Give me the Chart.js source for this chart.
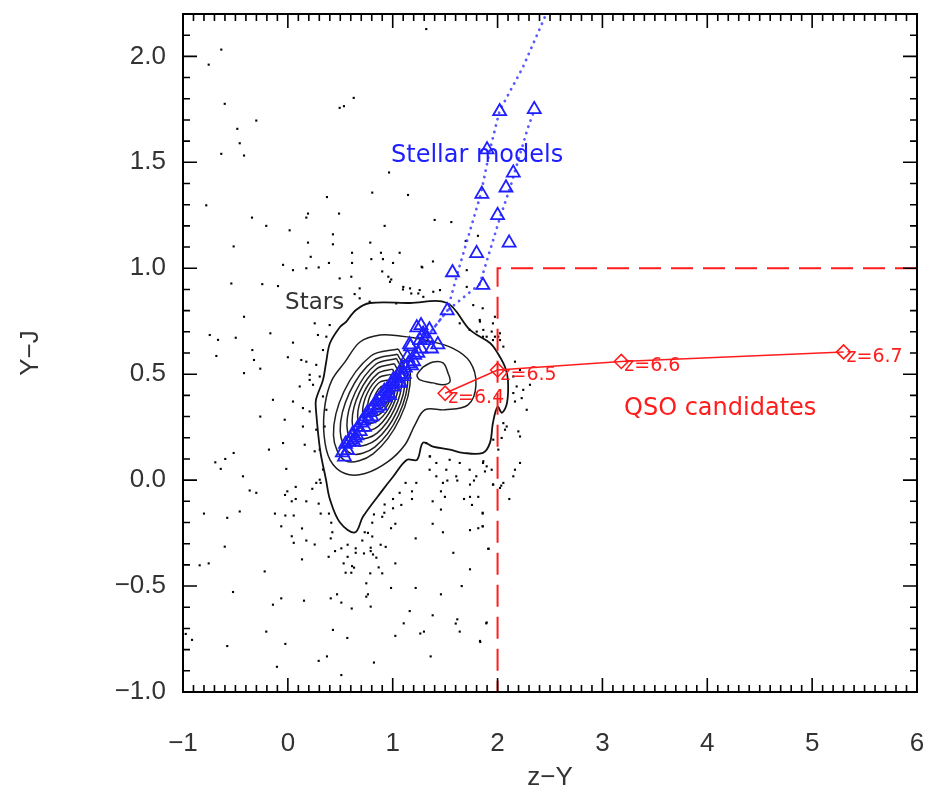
<!DOCTYPE html>
<html>
<head>
<meta charset="utf-8">
<title>z−Y vs Y−J colour–colour diagram</title>
<script src="https://cdn.jsdelivr.net/npm/chart.js@4.4.1/dist/chart.umd.min.js"></script>
<style>
  html, body { margin: 0; padding: 0; background: #ffffff; }
  #wrap { width: 928px; height: 796px; }
</style>
</head>
<body>
<div id="wrap"><canvas id="chart" width="928" height="796"></canvas></div>
<script>
// ---- Axis ticks ----
const xTickValues = [-1, 0, 1, 2, 3, 4, 5, 6];
const yTickValues = [-1.0, -0.5, 0.0, 0.5, 1.0, 1.5, 2.0];

// ---- Field stars (z−Y, Y−J) ----
const starDots = [
  [-0.635,2.032],[-0.755,1.961],[-0.602,1.776],[-0.301,1.697],[-0.482,1.658],[-0.459,1.590],[-0.635,1.540],[-0.418,1.532],
  [1.320,2.129],[0.494,1.757],[0.535,1.765],[0.628,1.804],[0.965,1.452],[0.805,1.357],[1.146,1.346],[0.373,1.336],
  [-0.778,1.297],[-0.342,1.239],[-0.206,1.200],[0.017,1.179],[0.176,1.239],[0.192,1.258],[0.488,1.258],[0.923,1.200],
  [1.400,1.228],[1.559,1.218],[0.430,1.160],[0.192,1.121],[0.430,1.113],[0.786,1.121],[1.813,1.153],[-0.517,1.103],
  [0.612,1.073],[0.888,1.073],[1.066,1.073],[0.218,1.054],[0.796,1.043],[0.907,1.043],[-0.046,1.016],[0.049,0.991],
  [0.176,1.000],[0.294,1.004],[0.392,1.025],[0.612,1.025],[1.003,1.025],[1.282,1.004],[1.384,1.032],[0.900,0.985],
  [1.696,1.129],[1.276,1.007],[1.706,0.991],[0.958,0.960],[0.974,0.936],[1.451,0.897],[1.706,0.912],[1.768,0.826],
  [1.832,0.748],[2.055,0.630],
  [-0.539,0.928],[-0.244,0.925],[-0.094,0.916],[0.494,0.952],[0.605,0.960],[0.986,0.947],[1.098,0.900],[1.177,0.881],
  [1.257,0.897],[0.685,0.905],[0.637,0.878],[0.685,0.858],[-0.418,0.771],[-0.745,0.685],[-0.666,0.662],[-0.497,0.672],
  [-0.167,0.693],[0.049,0.649],[-0.339,0.614],[-0.682,0.586],[-0.323,0.567],[-0.263,0.526],[0.000,0.580],[0.128,0.567],
  [0.176,0.559],[0.271,0.544],[0.287,0.685],[0.367,0.677],[0.256,0.740],[0.399,0.732],[0.494,0.834],[-0.418,0.505],
  [0.113,0.442],[-0.142,0.379],[0.049,0.371],[0.208,0.473],[0.208,0.497],[0.240,0.450],[-0.263,0.300],[-0.030,0.285],
  [0.144,0.340],[0.208,0.324],[0.144,0.253],[-0.046,0.175],[-0.180,0.144],[0.161,0.167],[0.256,0.136],[-0.517,0.128],
  [-0.692,0.084],[-0.597,0.100],[-0.640,0.053],[-0.428,0.018],[0.304,0.002],[-0.015,0.053],
  [0.335,0.614],[0.304,0.489],[0.335,0.395],[0.367,0.332],[0.351,0.253],[0.271,0.238],[0.304,0.144],[0.335,0.050],
  [1.320,0.175],[1.352,0.112],[1.416,0.081],[1.543,0.096],[1.639,0.081],[1.734,0.049],[1.861,0.081],[1.797,0.018],
  [1.416,0.018],[1.511,0.049],[1.606,0.018],[1.352,0.049],[1.225,-0.013],
  [0.780,0.842],[1.034,0.834],[1.639,0.740],[1.734,0.709],[1.861,0.677],[1.956,0.740],[1.830,0.756],[1.956,0.661],
  [1.101,0.912],[1.165,0.905],[1.244,0.881],[1.292,0.865],[1.387,0.889],[1.801,0.701],[1.896,0.677],[1.944,0.701],
  [2.007,0.677],[2.182,0.442],[2.087,0.253],[1.356,0.112],
  [-0.364,-0.049],[-0.301,-0.060],[-0.800,-0.158],[-0.578,-0.178],[-0.459,-0.148],[-0.602,-0.314],[-0.841,-0.402],[-0.755,-0.393],
  [-0.221,-0.431],[-0.523,-0.528],[-0.142,-0.588],[-0.063,-0.558],[-0.206,-0.715],[-0.578,-0.783],[-0.974,-0.726],[-0.914,-0.754],
  [-0.104,-0.881],[-0.024,-0.773],[-0.123,-0.158],[-0.024,-0.167],[-0.063,-0.218],[-0.027,-0.070],[-0.005,-0.053],[0.037,-0.100],
  [0.075,-0.032],[0.075,-0.089],[0.056,-0.167],[0.037,-0.265],[0.056,-0.296],[0.135,-0.228],[0.135,-0.374],[0.176,-0.100],
  [0.176,-0.285],[0.233,-0.041],[0.256,-0.304],[0.294,-0.111],[0.313,-0.158],[0.271,-0.013],[0.313,-0.013],[0.154,-0.569],
  [0.294,-0.853],[0.373,-0.832],[0.409,-0.558],[0.469,-0.539],[0.510,-0.578],[0.430,-0.707],[0.510,-0.920],[0.567,-0.745],
  [0.609,-0.606],[0.389,-0.362],[0.392,-0.158],[0.414,-0.201],[0.424,-0.246],[0.409,-0.275],[0.450,-0.335],[0.510,-0.322],
  [0.570,-0.305],[0.570,-0.362],[0.532,-0.393],[0.551,-0.437],[0.605,-0.437],[0.612,-0.406],[0.631,-0.413],[0.647,-0.322],
  [0.647,-0.343],[0.710,-0.285],[0.726,-0.346],[0.733,-0.246],[0.764,-0.249],[0.790,-0.319],[0.790,-0.335],[0.812,-0.351],
  [0.844,-0.366],[0.805,-0.266],[0.786,-0.440],[0.748,-0.487],[0.764,-0.539],[0.748,-0.550],[0.790,-0.597],[0.866,-0.412],
  [0.900,-0.440],[0.885,-0.305],[0.933,-0.315],[0.805,-0.201],[0.821,-0.162],[0.900,-0.173],[0.920,-0.154],[0.923,-0.115],
  [0.984,-0.227],[1.025,-0.206],[1.003,-0.133],[1.003,-0.089],[1.025,-0.393],[0.984,-0.509],[1.025,-0.735],[0.821,-0.861],
  [1.066,-0.060],[1.082,-0.117],[1.123,-0.013],[1.184,-0.053],[1.184,-0.089],[1.219,-0.275],[1.219,-0.509],[1.162,-0.618],
  [1.105,-0.676],[1.263,-0.724],[1.298,-0.715],[1.362,-0.832],[1.381,-0.638],[1.460,-0.539],[1.381,-0.206],[1.381,-0.100],
  [1.460,-0.053],[1.460,-0.139],[1.479,-0.246],[1.498,-0.079],[1.479,-0.013],[1.521,-0.002],[1.578,-0.343],[1.601,-0.677],
  [1.616,-0.657],[1.639,-0.715],[1.658,-0.500],[1.680,-0.089],[1.737,-0.079],[1.737,-0.421],[1.756,-0.117],[1.737,-0.236],
  [1.816,-0.227],[1.816,-0.079],[1.835,-0.764],[1.858,-0.158],[1.858,-0.218],[1.892,-0.676],[1.915,-0.324],[1.737,-0.021],
  [1.775,-0.002],[1.956,-0.021],[2.035,-0.026],[1.616,-0.002],
  [1.858,0.811],[1.975,0.771],[1.864,0.709],[2.023,0.693],[1.975,0.677],[2.023,0.661],[2.166,0.559],[2.214,0.520],
  [2.150,0.489],[2.309,0.450],[2.245,0.426],[2.150,0.411],[2.230,0.387],[2.166,0.371],[2.278,0.332],[2.055,0.269],
  [2.071,0.238],[2.198,0.230],[2.214,0.206],[2.039,0.199],[1.959,0.191],[2.007,0.144],[1.864,0.089],[1.896,0.065],
  [1.944,0.049],[1.880,0.041],[2.214,0.081],[2.166,0.049],[2.150,0.018],[1.959,-0.021],[2.055,-0.013],[2.023,-0.037],
  [2.112,-0.089],[1.858,-0.154],[1.858,-0.218],[1.911,-0.324],[1.896,-0.672],[1.832,-0.759]
];

// ---- Density contours of the star locus (closed outlines) ----
const contourOuter = [
  [0.554,0.746],[0.650,0.803],[0.783,0.836],[1.165,0.836],[1.518,0.836],[1.737,0.709],[1.928,0.647],[2.000,0.600],
  [2.071,0.534],[2.099,0.473],[2.090,0.365],[2.042,0.318],[2.000,0.346],[1.956,0.271],[1.928,0.177],[1.861,0.129],
  [1.670,0.129],[1.546,0.144],[1.384,0.158],[1.289,0.177],[1.232,0.096],[1.136,0.096],[1.003,0.016],[0.907,-0.045],
  [0.717,-0.172],[0.640,-0.247],[0.497,-0.200],[0.402,-0.092],[0.364,0.002],[0.307,0.144],[0.268,0.332],[0.268,0.379],
  [0.335,0.473],[0.364,0.553],[0.402,0.647],[0.497,0.723]
];
const contourLobe = [
  [0.545,0.558],[0.688,0.652],[0.879,0.685],[1.069,0.680],[1.308,0.661],[1.565,0.624],[1.737,0.558],[1.794,0.450],
  [1.718,0.355],[1.499,0.332],[1.308,0.332],[1.212,0.261],[1.117,0.167],[0.955,0.087],[0.736,0.031],[0.545,0.031],
  [0.402,0.096],[0.345,0.214],[0.354,0.355],[0.421,0.473]
];
const contourLobePeak = [
  [1.289,0.534],[1.384,0.558],[1.480,0.553],[1.527,0.506],[1.546,0.464],[1.480,0.450],[1.384,0.459],[1.260,0.473],[1.232,0.497]
];
const contourCore = [
  [[1.053,0.619],[1.169,0.498],[1.070,0.293],[0.813,0.124],[0.551,0.091],[0.435,0.212],[0.534,0.417],[0.791,0.586]],
  [[1.045,0.594],[1.145,0.488],[1.055,0.306],[0.829,0.156],[0.599,0.126],[0.499,0.232],[0.589,0.414],[0.815,0.564]],
  [[1.036,0.574],[1.119,0.481],[1.040,0.323],[0.843,0.191],[0.647,0.165],[0.563,0.257],[0.643,0.415],[0.839,0.547]],
  [[1.016,0.549],[1.087,0.470],[1.018,0.335],[0.851,0.222],[0.684,0.199],[0.613,0.278],[0.682,0.413],[0.849,0.526]],
  [[0.998,0.524],[1.055,0.458],[0.998,0.347],[0.861,0.254],[0.722,0.234],[0.665,0.300],[0.722,0.411],[0.859,0.504]],
  [[0.978,0.499],[1.025,0.447],[0.981,0.358],[0.871,0.285],[0.760,0.269],[0.713,0.321],[0.757,0.410],[0.867,0.483]],
  [[0.960,0.473],[0.997,0.434],[0.965,0.368],[0.883,0.314],[0.798,0.303],[0.761,0.342],[0.793,0.408],[0.875,0.462]],
  [[0.951,0.448],[0.978,0.422],[0.958,0.379],[0.904,0.344],[0.845,0.338],[0.818,0.364],[0.838,0.407],[0.892,0.442]]
];

// ---- Stellar model colours ----
const stellarModels = [
  [0.52,0.13],[0.55,0.17],[0.57,0.14],[0.60,0.19],[0.62,0.22],[0.64,0.20],[0.67,0.25],[0.69,0.23],
  [0.72,0.28],[0.74,0.30],[0.77,0.29],[0.79,0.33],[0.82,0.35],[0.85,0.34],[0.87,0.38],[0.90,0.40],
  [0.93,0.39],[0.95,0.43],[0.98,0.45],[1.01,0.44],[1.03,0.48],[1.06,0.50],[1.09,0.49],[1.12,0.53],
  [1.15,0.55],[1.18,0.54],[1.21,0.59],[1.24,0.60],[1.27,0.62],[1.30,0.66],[1.17,0.63],[1.07,0.46],
  [0.97,0.40],[1.16,0.64],[1.23,0.72],[1.27,0.73],[1.35,0.71],[1.37,0.62],[1.29,0.69],[1.43,0.64],
  [0.54,0.11],[0.58,0.18],[0.63,0.18],[0.66,0.21],[0.70,0.27],[0.73,0.25],[0.76,0.32],[0.80,0.30],
  [0.84,0.37],[0.88,0.35],[0.92,0.42],[0.96,0.41],[1.00,0.47],[1.04,0.46],[1.08,0.52],[1.11,0.50],
  [1.14,0.58],[1.20,0.56],[1.26,0.66],[1.33,0.67],
  [1.066,0.458],[1.52,0.80],[1.57,0.98],[1.80,1.07],[1.86,0.92],[1.85,1.35],[1.90,1.56],[2.02,1.74],
  [2.00,1.25],[2.08,1.38],[2.15,1.45],[2.11,1.12],[2.35,1.75]
];
const stellarTrackA = [
  [0.52,0.12],[1.00,0.45],[1.30,0.66],[1.52,0.80],[1.62,0.98],[1.84,1.35],[1.93,1.565],[2.02,1.744],[2.24,1.947],[2.46,2.196]
];
const stellarTrackB = [
  [1.30,0.66],[1.52,0.80],[1.83,0.925],[2.03,1.25],[2.12,1.38],[2.16,1.448],[2.29,1.664],[2.357,1.754]
];

// ---- Quasar track with redshift ----
const qsoRedshifts = [6.4, 6.5, 6.6, 6.7];
const qsoZY = [1.50, 2.00, 3.18, 5.30];
const qsoYJ = [0.41, 0.52, 0.56, 0.605];

// ---- Selection boundary: z−Y > 2, Y−J < 1 ----
const selectionBox = [[6, 1.0], [2, 1.0], [2, -1.0]];

const BLUE = '#1e1eff';
const RED = '#ff1c1c';
const INK = '#111111';

const pts = arr => arr.map(p => ({ x: p[0], y: p[1] }));
const closed = arr => pts(arr.concat([arr[0]]));

const contourSet = (arr, width, color) => ({
  data: closed(arr), showLine: true, borderColor: color, borderWidth: width,
  pointRadius: 0, tension: 0.35, fill: false
});

const datasets = [
  {
    label: 'QSO', data: qsoZY.map((v, i) => ({ x: v, y: qsoYJ[i] })), showLine: true,
    borderColor: RED, borderWidth: 1.6, pointStyle: 'rectRot', pointRadius: 7,
    pointBorderWidth: 1.6, pointBackgroundColor: 'rgba(0,0,0,0)', pointBorderColor: RED
  },
  {
    label: 'models', data: pts(stellarModels), showLine: false,
    pointStyle: 'triangle', pointRadius: 7.5, pointBorderWidth: 1.8,
    pointBorderColor: BLUE, pointBackgroundColor: 'rgba(0,0,0,0)'
  },
  {
    label: 'trackA', data: pts(stellarTrackA), showLine: true, pointRadius: 0,
    borderColor: 'rgba(60,60,255,0.85)', borderWidth: 2.8, borderDash: [0.1, 6.5], borderCapStyle: 'round'
  },
  {
    label: 'trackB', data: pts(stellarTrackB), showLine: true, pointRadius: 0,
    borderColor: 'rgba(60,60,255,0.85)', borderWidth: 2.8, borderDash: [0.1, 6.5], borderCapStyle: 'round'
  },
  {
    label: 'box', data: pts(selectionBox), showLine: true, pointRadius: 0,
    borderColor: RED, borderWidth: 2, borderDash: [22, 10]
  },
  contourSet(contourOuter, 1.8, INK),
  contourSet(contourLobe, 1.5, '#1e1e1e'),
  contourSet(contourLobePeak, 1.5, '#1e1e1e'),
  ...contourCore.map(r => contourSet(r, 1.5, '#222222')),
  {
    label: 'stars', data: pts(starDots), showLine: false,
    pointStyle: 'rect', pointRadius: 1.5, pointBorderWidth: 0,
    pointBackgroundColor: '#000', pointBorderColor: '#000'
  }
];

const minusSign = s => s.replace('-', '\u2212');
const noEdgePadding = s => { s.paddingLeft = 0; s.paddingRight = 0; s.paddingTop = 0; s.paddingBottom = 0; };

// Frame with inward major/minor ticks on all four sides, plus axis titles
const frameTicks = {
  id: 'frameTicks',
  afterDraw(chart) {
    const { ctx, chartArea: a, scales: { x, y } } = chart;
    ctx.save();
    ctx.strokeStyle = '#000';
    ctx.lineWidth = 1.6;
    ctx.beginPath();
    for (let i = -10; i <= 60; i++) {
      const px = x.getPixelForValue(i / 10);
      const len = (i % 10 === 0) ? 14 : 7;
      ctx.moveTo(px, a.bottom); ctx.lineTo(px, a.bottom - len);
      ctx.moveTo(px, a.top); ctx.lineTo(px, a.top + len);
    }
    for (let j = -10; j <= 22; j++) {
      const py = y.getPixelForValue(j / 10);
      const len = (j % 5 === 0) ? 14 : 7;
      ctx.moveTo(a.left, py); ctx.lineTo(a.left + len, py);
      ctx.moveTo(a.right, py); ctx.lineTo(a.right - len, py);
    }
    ctx.stroke();
    ctx.lineWidth = 2;
    ctx.strokeRect(a.left, a.top, a.right - a.left, a.bottom - a.top);

    ctx.fillStyle = '#333';
    ctx.font = '26px "Liberation Sans"';
    ctx.textAlign = 'center';
    ctx.textBaseline = 'middle';
    ctx.fillText('z\u2212Y', (a.left + a.right) / 2, a.bottom + 86);
    ctx.translate(31, (a.top + a.bottom) / 2);
    ctx.rotate(-Math.PI / 2);
    ctx.fillText('Y\u2212J', 0, 0);
    ctx.restore();
  }
};

// Text annotations: redshift labels along the quasar track and region names
const notes = [
  { text: 'Stellar models', x: 0.984, y: 1.532, color: BLUE, font: '24px "DejaVu Sans"' },
  { text: 'QSO candidates', x: 3.206, y: 0.337, color: RED, font: '24px "DejaVu Sans"' },
  { text: 'Stars', x: -0.027, y: 0.836, color: '#333', font: '23px "DejaVu Sans"' }
];
const annotate = {
  id: 'annotate',
  afterDatasetsDraw(chart) {
    const { ctx, scales: { x, y } } = chart;
    ctx.save();
    ctx.textAlign = 'left';
    ctx.textBaseline = 'middle';
    ctx.fillStyle = RED;
    ctx.font = '19px "DejaVu Sans"';
    qsoRedshifts.forEach((z, i) => {
      ctx.fillText('z=' + z.toFixed(1), x.getPixelForValue(qsoZY[i]) + 3, y.getPixelForValue(qsoYJ[i]) + 5);
    });
    notes.forEach(n => {
      ctx.fillStyle = n.color;
      ctx.font = n.font;
      ctx.fillText(n.text, x.getPixelForValue(n.x), y.getPixelForValue(n.y));
    });
    ctx.restore();
  }
};

new Chart(document.getElementById('chart'), {
  type: 'scatter',
  data: { datasets },
  options: {
    responsive: false,
    animation: false,
    events: [],
    layout: { padding: { left: 0, top: 14, right: 11, bottom: 0 } },
    plugins: { legend: { display: false }, tooltip: { enabled: false } },
    scales: {
      x: {
        type: 'linear', min: -1, max: 6,
        afterBuildTicks: s => { s.ticks = xTickValues.map(v => ({ value: v })); },
        afterFit: s => { s.height = 104; noEdgePadding(s); },
        grid: { display: false, drawTicks: false },
        border: { display: false },
        ticks: {
          padding: 36, maxRotation: 0, autoSkip: false, color: '#333',
          font: { family: 'Liberation Sans', size: 26 },
          callback: v => minusSign(String(v))
        }
      },
      y: {
        type: 'linear', min: -1, max: 2.2,
        afterBuildTicks: s => { s.ticks = yTickValues.map(v => ({ value: v })); },
        afterFit: s => { s.width = 183; noEdgePadding(s); },
        grid: { display: false, drawTicks: false },
        border: { display: false },
        ticks: {
          padding: 17, autoSkip: false, color: '#333',
          font: { family: 'Liberation Sans', size: 26 },
          callback: v => minusSign(Number(v).toFixed(1))
        }
      }
    }
  },
  plugins: [annotate, frameTicks]
});
</script>
</body>
</html>
